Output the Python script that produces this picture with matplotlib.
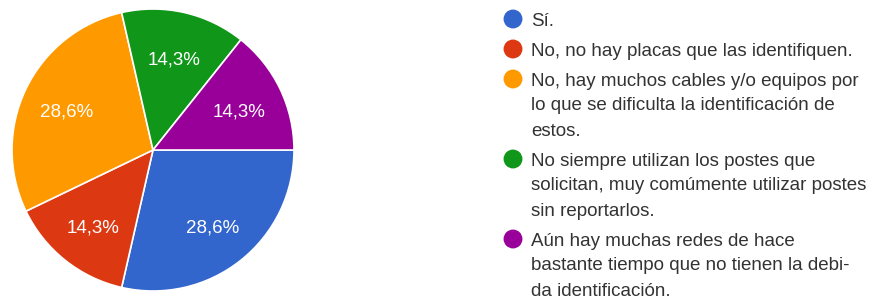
import matplotlib
matplotlib.use("Agg")
import matplotlib.pyplot as plt

plt.rcParams['font.family'] = ['Liberation Sans', 'DejaVu Sans']

labels = [
    "Sí.",
    "No, no hay placas que las identifiquen.",
    "No, hay muchos cables y/o equipos por\nlo que se dificulta la identificación de\nestos.",
    "No siempre utilizan los postes que\nsolicitan, muy comúmente utilizar postes\nsin reportarlos.",
    "Aún hay muchas redes de hace\nbastante tiempo que no tienen la debi-\nda identificación.",
]
counts = [2, 1, 2, 1, 1]
colors = ["#3366CC", "#DC3912", "#FF9900", "#109618", "#990099"]

W, H = 872, 301
fig = plt.figure(figsize=(W / 100, H / 100), dpi=100)

# pie axes: centre (153,150) px, radius 141 px
ax = fig.add_axes([12 / W, (H - 291) / H, 282 / W, 282 / H])


def pct(p):
    return f"{p:.1f}%".replace(".", ",")


wedges, texts, autotexts = ax.pie(
    counts, colors=colors, startangle=0, counterclock=False, radius=1,
    autopct=pct, pctdistance=0.68,
    wedgeprops=dict(edgecolor="white", linewidth=1.2),
    textprops=dict(color="white", fontsize=13.5))
# labels sit a little lower in the original
for t in autotexts:
    x0, y0 = t.get_position()
    t.set_position((x0, y0 - 0.025))
ax.set_xlim(-1, 1)
ax.set_ylim(-1, 1)
ax.set_aspect("equal")

# legend drawn in pixel coordinates, one text per wrapped line
lg = fig.add_axes([0, 0, 1, 1])
lg.set_xlim(0, W)
lg.set_ylim(H, 0)
lg.axis("off")
line_h = 25
y = 19
for lab, col in zip(labels, colors):
    lg.scatter([513], [y], s=185, color=col, edgecolors="none")
    for i, line in enumerate(lab.split("\n")):
        lg.text(531, y + 6.5 + i * line_h, line, fontsize=13.5, color="#333333",
                va="baseline", ha="left")
    y += lab.count("\n") * line_h + 30

fig.savefig("out.png", dpi=100)
